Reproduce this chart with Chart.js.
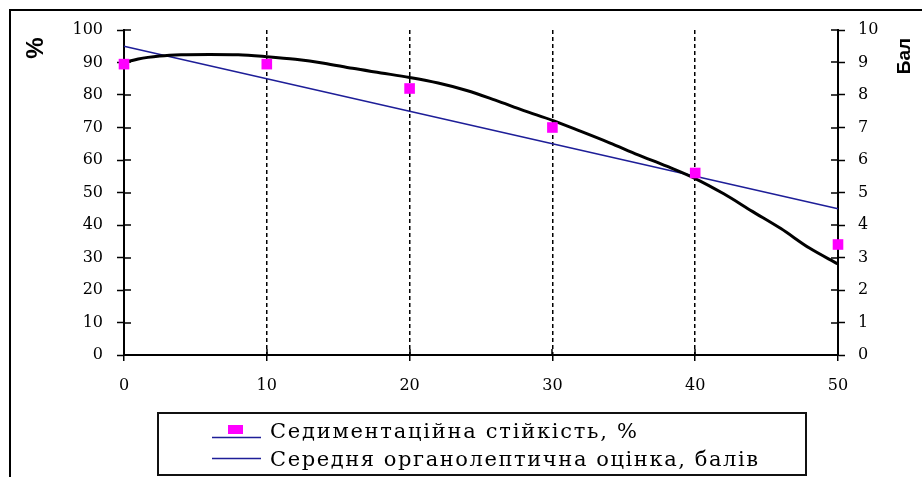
<!DOCTYPE html>
<html>
<head>
<meta charset="utf-8">
<script src="https://cdn.jsdelivr.net/npm/chart.js@4.4.1/dist/chart.umd.min.js"></script>
<style>
  html, body { margin: 0; padding: 0; background: #fff; overflow: hidden; }
  canvas { display: block; }
</style>
</head>
<body>
<canvas id="chart" width="922" height="477"></canvas>
<script>
// Dose of additive (x axis)
const doseLevels = [0, 10, 20, 30, 40, 50];
// Sedimentation stability, % (left axis)
const sedimentation = [89.5, 89.5, 82, 70, 56, 34];
// Average organoleptic score, points (right axis)
const organoleptic = [9.5, 8.5, 7.5, 6.5, 5.5, 4.5];
// Smoothed trend of sedimentation stability, %
const trendDose = [0, 1, 2.5, 4, 6, 8, 10, 12, 14, 16, 18, 20, 22, 24, 26, 28, 30, 32, 34, 36, 38, 40, 42, 44, 46, 48, 50];
const trendValue = [90.0, 91.1, 92.0, 92.4, 92.5, 92.4, 91.8, 91.0, 89.8, 88.2, 86.8, 85.4, 83.7, 81.4, 78.4, 75.2, 72.2, 68.8, 65.3, 61.6, 58.1, 54.3, 49.6, 44.2, 38.9, 32.9, 28.0];

const legendLabels = ['Седиментаційна стійкість, %', 'Середня органолептична оцінка, балів'];
const leftAxisTitle = '%';
const rightAxisTitle = 'Бал';

const BLUE = '#1e1e98';
const MAGENTA = '#ff00ff';
const tickFont = { family: 'DejaVu Serif', size: 16 };

const pts = (xs, ys) => xs.map((x, i) => ({ x, y: ys[i] }));

// Frame, inner tick halves, axis titles and the boxed legend
const decor = {
  id: 'decor',
  beforeDraw(chart) {
    const ctx = chart.ctx;
    ctx.save();
    ctx.strokeStyle = '#000';
    ctx.lineWidth = 2;
    ctx.beginPath();
    ctx.moveTo(10, chart.height);
    ctx.lineTo(10, 10);
    ctx.lineTo(chart.width, 10);
    ctx.stroke();
    ctx.restore();
  },
  beforeDatasetsDraw(chart) {
    const ctx = chart.ctx;
    const { x, y, y1 } = chart.scales;
    const len = 7;
    ctx.save();
    ctx.strokeStyle = '#000';
    ctx.lineWidth = 1.5;
    ctx.beginPath();
    x.ticks.forEach(t => {
      const px = Math.round(x.getPixelForValue(t.value));
      ctx.moveTo(px, x.top);
      ctx.lineTo(px, x.top - len + 1);
    });
    y.ticks.forEach(t => {
      const py = Math.round(y.getPixelForValue(t.value));
      ctx.moveTo(y.right, py);
      ctx.lineTo(y.right + len, py);
    });
    y1.ticks.forEach(t => {
      const py = Math.round(y1.getPixelForValue(t.value));
      ctx.moveTo(y1.left, py);
      ctx.lineTo(y1.left - len, py);
    });
    ctx.stroke();
    ctx.restore();
  },
  afterDraw(chart) {
    const ctx = chart.ctx;
    ctx.save();
    // axis titles
    ctx.fillStyle = '#000';
    ctx.textAlign = 'center';
    ctx.textBaseline = 'middle';
    ctx.font = 'bold 24px "Liberation Sans"';
    ctx.save();
    ctx.translate(36, 48);
    ctx.rotate(-Math.PI / 2);
    ctx.fillText(leftAxisTitle, 0, 0);
    ctx.restore();
    ctx.font = 'bold 19px "Liberation Sans"';
    ctx.save();
    ctx.translate(905, 56);
    ctx.rotate(-Math.PI / 2);
    ctx.fillText(rightAxisTitle, 0, 0);
    ctx.restore();

    // legend box
    ctx.strokeStyle = '#111';
    ctx.lineWidth = 2;
    ctx.strokeRect(158, 413, 648, 62);

    // legend symbols
    ctx.strokeStyle = BLUE;
    ctx.lineWidth = 1.5;
    ctx.beginPath();
    ctx.moveTo(212, 437.5); ctx.lineTo(261, 437.5);
    ctx.moveTo(212, 458.5); ctx.lineTo(261, 458.5);
    ctx.stroke();
    ctx.fillStyle = MAGENTA;
    ctx.fillRect(228, 425, 15, 9);

    // legend text, spread to the legend's column width
    ctx.fillStyle = '#000';
    ctx.textAlign = 'left';
    ctx.textBaseline = 'alphabetic';
    ctx.font = '21px "DejaVu Serif"';
    const widths = [367, 488];
    const baselines = [438, 466];
    legendLabels.forEach((label, i) => {
      ctx.letterSpacing = '0px';
      const w0 = ctx.measureText(label).width;
      const sp = Math.max(0, (widths[i] - w0) / (label.length - 1));
      ctx.letterSpacing = sp.toFixed(2) + 'px';
      ctx.fillText(label, 270, baselines[i]);
    });
    ctx.letterSpacing = '0px';
    ctx.restore();
  }
};

new Chart(document.getElementById('chart'), {
  type: 'scatter',
  data: {
    datasets: [
      {
        label: legendLabels[0],
        data: pts(doseLevels, sedimentation),
        yAxisID: 'y',
        showLine: false,
        pointStyle: 'rect',
        pointRadius: 7.5,
        pointHoverRadius: 7.5,
        backgroundColor: MAGENTA,
        borderColor: MAGENTA,
        borderWidth: 0,
        clip: false,
        order: 0
      },
      {
        label: 'trend',
        data: pts(trendDose, trendValue),
        yAxisID: 'y',
        showLine: true,
        borderColor: '#000',
        borderWidth: 3,
        pointRadius: 0,
        cubicInterpolationMode: 'monotone',
        clip: false,
        order: 1
      },
      {
        label: legendLabels[1],
        data: pts(doseLevels, organoleptic),
        yAxisID: 'y1',
        showLine: true,
        borderColor: BLUE,
        borderWidth: 1.5,
        pointRadius: 0,
        clip: false,
        order: 2
      }
    ]
  },
  options: {
    responsive: false,
    devicePixelRatio: 1,
    animation: false,
    events: [],
    layout: { padding: { top: 30, left: 0, right: 0, bottom: 0 } },
    plugins: { legend: { display: false }, tooltip: { enabled: false } },
    scales: {
      x: {
        type: 'linear',
        position: 'bottom',
        min: 0,
        max: 50,
        afterFit: s => { s.height = 122; },
        ticks: { stepSize: 10, autoSkip: false, color: '#000', font: tickFont, padding: 15, maxRotation: 0 },
        grid: {
          drawOnChartArea: true,
          drawTicks: true,
          tickLength: 6,
          lineWidth: 1.5,
          color: c => (c.tick && (c.tick.value === 0 || c.tick.value === 50)) ? 'rgba(0,0,0,0)' : '#000',
          tickColor: '#000',
          tickWidth: 1.5
        },
        border: { display: true, color: '#000', width: 2, dash: [4, 3] }
      },
      y: {
        type: 'linear',
        position: 'left',
        min: 0,
        max: 100,
        afterFit: s => { s.width = 124; },
        ticks: { stepSize: 10, autoSkip: false, color: '#000', font: tickFont, padding: 14 },
        grid: { drawOnChartArea: false, drawTicks: true, tickLength: 7, tickColor: '#000', tickWidth: 1.5 },
        border: { display: true, color: '#000', width: 2 }
      },
      y1: {
        type: 'linear',
        position: 'right',
        min: 0,
        max: 10,
        afterFit: s => { s.width = 84; },
        ticks: { stepSize: 1, autoSkip: false, color: '#000', font: tickFont, padding: 13 },
        grid: { drawOnChartArea: false, drawTicks: true, tickLength: 7, tickColor: '#000', tickWidth: 1.5 },
        border: { display: true, color: '#000', width: 2 }
      }
    }
  },
  plugins: [decor]
});
</script>
</body>
</html>
